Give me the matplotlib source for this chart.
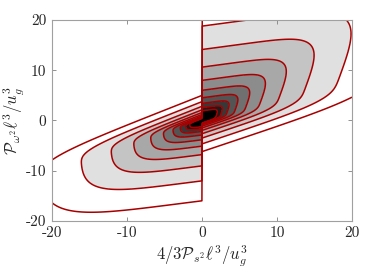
import numpy as np
import matplotlib
matplotlib.use('Agg')
import matplotlib.pyplot as plt

plt.rcParams['mathtext.fontset'] = 'cm'
plt.rcParams['font.family'] = 'serif'
plt.rcParams['font.serif'] = ['cmr10']
plt.rcParams['axes.unicode_minus'] = False

# joint pdf: every level is a copy of the outer one,
# shrunk by LEVEL_RATIO.  Each half of the plane has its own outline:
# right half uses (s, t) = (x, y), left half uses (s, t) = (-x, -y)
LEVEL_RATIO = 1.33
N_LEVELS = 10
# outline of the outermost level (L1): reach up, reach down, reach along s
right_reach = [25.0, 6.2, 21.5]
right_slopes = [0.2, 0.5, 0.25]   # tilt of upper edge, lower edge, nose
left_reach = [16.0, 5.0, 21.5]
left_slopes = [0.19, 0.59, 0.0]
CORNER = 5.0

ticks = [-20, -10, 0, 10, 20]
tick_labels = ['-20', '-10', '0', '10', '20']


def spread(s, t, reach, slopes):
	d_top = t - slopes[0] * s
	d_bot = t - slopes[1] * s
	zeta = s - slopes[2] * t
	g = (np.clip(d_top, 0, None) / reach[0]) ** CORNER \
		+ (np.clip(-d_bot, 0, None) / reach[1]) ** CORNER \
		+ (np.clip(zeta, 0, None) / reach[2]) ** CORNER
	return g ** (1 / CORNER)


x = np.linspace(-20, 20, 900)
y = np.linspace(-20, 20, 900)
X, Y = np.meshgrid(x, y)
G = np.where(X >= 0,
	spread(X, Y, right_reach, right_slopes),
	spread(-X, -Y, left_reach, left_slopes))

lines = [LEVEL_RATIO ** -k for k in range(N_LEVELS - 1, -1, -1)]
bounds = [0] + lines + [1e9]
# darkest in the core, white between the two outer lines and outside
shades = [str(round(0.11 * i, 2)) for i in range(N_LEVELS - 1)] + ['1.0', '1.0']

fig = plt.figure(figsize=(3.89, 2.71), dpi=100)
ax = fig.add_axes([0.134, 0.185, 0.771, 0.741])
ax.contourf(X, Y, G, levels=bounds, colors=shades)
ax.contour(X, Y, G, levels=lines, colors='#a80000', linewidths=1.1)

ax.set_xlim(-20, 20)
ax.set_ylim(-20, 20)
ax.set_xticks(ticks)
ax.set_yticks(ticks)
ax.set_xticklabels(tick_labels)
ax.set_yticklabels(tick_labels)
ax.tick_params(direction='in', length=3, width=0.6, color='#808080',
	labelsize=11, labelcolor='#262626', top=True, right=True, pad=4)
for sp in ax.spines.values():
	sp.set_color('#a0a0a0')
	sp.set_linewidth(0.8)
ax.set_xlabel(r'$4/3\mathcal{P}_{s^2}\ell^3/u_g^3$', fontsize=12, color='#262626', labelpad=2)
ax.set_ylabel(r'$\mathcal{P}_{\omega^2}\ell^3/u_g^3$', fontsize=12, color='#262626', labelpad=0)

fig.savefig('out.png', dpi=100)
